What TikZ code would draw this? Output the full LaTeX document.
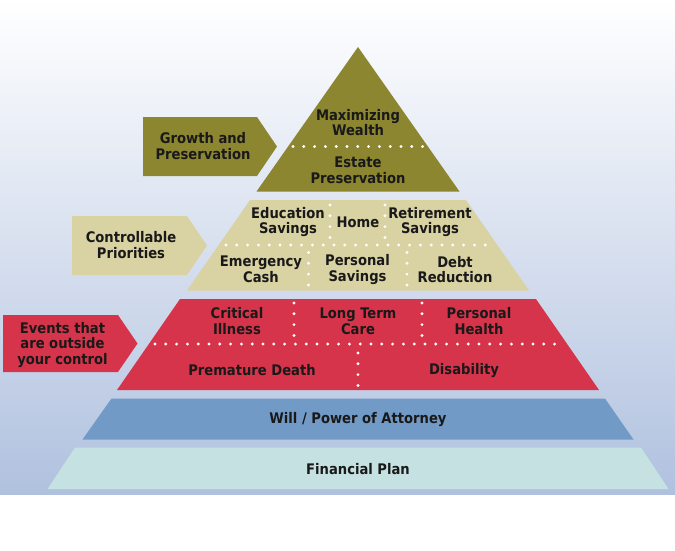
\documentclass[tikz,border=0pt]{standalone}
\usepackage{fontspec}
\setmainfont{DejaVu Sans Condensed}
\definecolor{topolive}{RGB}{140,134,49}
\definecolor{pritan}{RGB}{217,210,163}
\definecolor{riskred}{RGB}{214,52,75}
\definecolor{willblue}{RGB}{113,154,199}
\definecolor{planmint}{RGB}{197,225,225}
\definecolor{bgblue}{RGB}{176,193,223}
\definecolor{bgmid}{RGB}{226,233,243}
\tikzset{
  lbl/.style={align=center, text=black!90, inner sep=0pt,
    font=\fontsize{14.6}{15.6}\selectfont\bfseries},
  dots/.style={white, line width=3.2pt, line cap=round, dash pattern=on 0pt off 10.8pt}
}
\begin{document}
\begin{tikzpicture}[x=1pt,y=-1pt]
  \useasboundingbox (0,0) rectangle (675,550);
  % background
  \shade[top color=white, middle color=bgmid, bottom color=bgblue] (0,0) rectangle (675,494);
  % pyramid tiers
  \fill[topolive] (358,47) -- (459.5,191.5) -- (256.5,191.5) -- cycle;
  \fill[pritan] (250,200) -- (466,200) -- (529,290.5) -- (187,290.5) -- cycle;
  \fill[riskred] (180,299) -- (536,299) -- (599,390) -- (117,390) -- cycle;
  \fill[willblue] (111.5,398.5) -- (605,398.5) -- (633.5,439.5) -- (82.5,439.5) -- cycle;
  \fill[planmint] (75,447.5) -- (641,447.5) -- (668.5,489) -- (47.5,489) -- cycle;
  % side arrows
  \fill[topolive] (143,117) -- (257,117) -- (277,146.5) -- (257,176) -- (143,176) -- cycle;
  \fill[pritan] (72,216) -- (187,216) -- (207,245.5) -- (187,275) -- (72,275) -- cycle;
  \fill[riskred] (3,315) -- (118,315) -- (137.5,343.5) -- (118,372) -- (3,372) -- cycle;
  % dotted separators
  \draw[dots] (293,146.5) -- (424,146.5);
  \draw[dots] (226,245) -- (491,245);
  \foreach \x in {330,385} \draw[dots] (\x,205) -- (\x,240);
  \foreach \x in {308.5,407} \draw[dots] (\x,252.5) -- (\x,287);
  \foreach \x in {294,422} \draw[dots] (\x,303) -- (\x,337);
  \draw[dots] (155,344) -- (562,344);
  \draw[dots] (358,353) -- (358,386);
  % labels
  \node[lbl] (wealth) at (358,122.5) {Maximizing\\Wealth};
  \node[lbl] (estate) at (358,170.5) {Estate\\Preservation};
  \node[lbl] (growth) at (203,146) {Growth and\\Preservation};
  \node[lbl] (educ) at (288,222) {Education\\Savings};
  \node[lbl] (home) at (358,222) {Home};
  \node[lbl] (retire) at (430,222) {Retirement\\Savings};
  \node[lbl] (cash) at (261,269.5) {Emergency\\Cash};
  \node[lbl] (psave) at (357.5,269.5) {Personal\\Savings};
  \node[lbl] (debt) at (455,269.5) {Debt\\Reduction};
  \node[lbl] (control) at (131,245) {Controllable\\Priorities};
  \node[lbl] (illness) at (237,321) {Critical\\Illness};
  \node[lbl] (ltc) at (358,321) {Long Term\\Care};
  \node[lbl] (health) at (479,321) {Personal\\Health};
  \node[lbl] (death) at (252,370.5) {Premature Death};
  \node[lbl] (disab) at (464,370.5) {Disability};
  \node[lbl] (events) at (62.5,345) {Events that\\are outside\\your control};
  \node[lbl] (will) at (358,420) {Will / Power of Attorney};
  \node[lbl] (plan) at (358,469.5) {Financial Plan};
\end{tikzpicture}
\end{document}
